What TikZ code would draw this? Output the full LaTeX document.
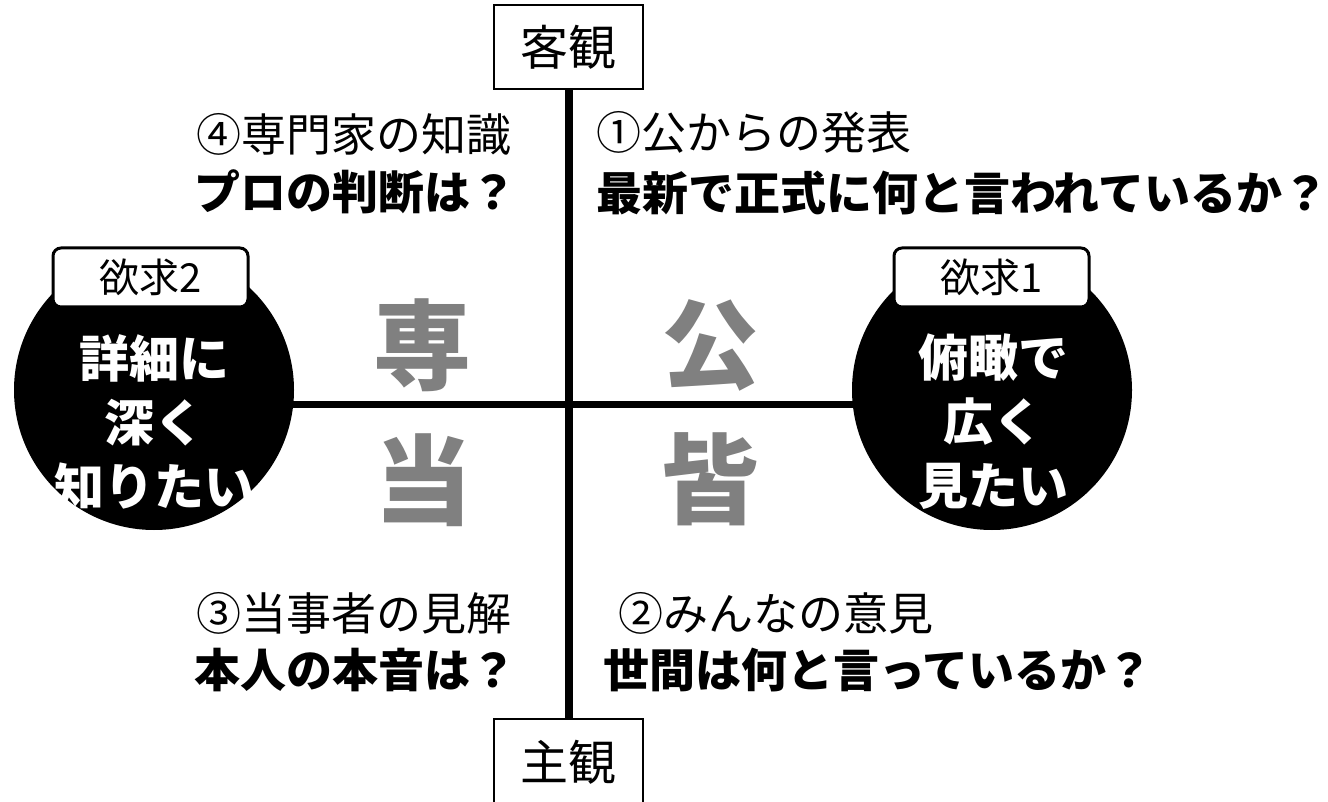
\documentclass[tikz,border=0pt]{standalone}
\usepackage{fontspec}
\newfontfamily\jp{Noto Sans CJK JP}
\definecolor{biggray}{HTML}{808080}
\begin{document}
\begin{tikzpicture}[x=1pt,y=-1pt,
  lab/.style={font=\jp\fontsize{45}{54}\selectfont, inner sep=0pt, anchor=west},
  labb/.style={font=\jp\bfseries\fontsize{46}{54}\selectfont, inner sep=0pt, anchor=west},
  big/.style={font=\jp\bfseries\fontsize{98}{100}\selectfont, text=biggray, inner sep=0pt},
  want/.style={circle, fill=black, minimum size=280pt, inner sep=0pt},
  wanttext/.style={text=white, font=\jp\bfseries\fontsize{50}{64}\selectfont, align=center, inner sep=0pt},
  tag/.style={draw, line width=3pt, rounded corners=8pt, fill=white, minimum width=195pt, minimum height=59pt, inner sep=0pt, font=\jp\fontsize{40}{44}\selectfont},
  axisbox/.style={draw, line width=2pt, fill=white, minimum width=149pt, inner sep=0pt, font=\jp\fontsize{48}{50}\selectfont},
  axisline/.style={line width=8pt},
  hline/.style={line width=7pt}
]
\useasboundingbox (0,0) rectangle (1328,802);
\fill[white] (0,0) rectangle (1328,802);

% axis boxes
\node[axisbox, minimum height=84pt] (obj) at (568.5,47) {客観};
\node[axisbox, minimum height=86pt] (subj) at (568.5,762) {主観};

% circles
\node[want] (c2) at (154,390) {};
\node[want] (c1) at (992,390) {};

% axes
\draw[axisline] (obj.south) -- (subj.north);
\draw[hline] (c2.-6) -- (c1.186);

% tags
\node[tag] (t2) at (150.5,277.5) {欲求2};
\node[tag] (t1) at (991.5,277.5) {欲求1};

% circle texts
\node[wanttext] (w2) at (154,422) {詳細に\\深く\\知りたい};
\node[wanttext] (w1) at (993,422) {俯瞰で\\広く\\見たい};

% big gray characters
\node[big] (g1) at (422,345) {専};
\node[big] (g2) at (710,345) {公};
\node[big] (g3) at (423,480) {当};
\node[big] (g4) at (710,479) {皆};

% quadrant labels
\node[lab]  (q4a) at (196,134) {④専門家の知識};
\node[labb] (q4b) at (194,192) {プロの判断は？};
\node[lab]  (q1a) at (596,132) {①公からの発表};
\node[labb] (q1b) at (596,193) {最新で正式に何と言われているか？};
\node[lab]  (q3a) at (196,613) {③当事者の見解};
\node[labb] (q3b) at (194,670) {本人の本音は？};
\node[lab]  (q2a) at (618,613) {②みんなの意見};
\node[labb] (q2b) at (603,670) {世間は何と言っているか？};
\end{tikzpicture}
\end{document}
